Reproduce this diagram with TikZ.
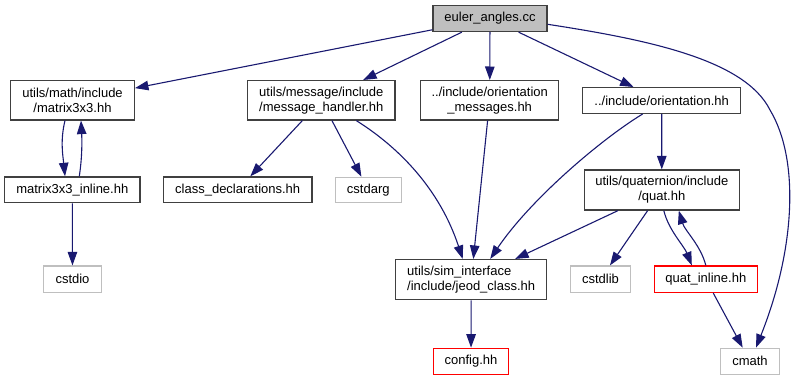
\documentclass[tikz,border=0pt]{standalone}
\usepackage{fontspec}
\setmainfont{Liberation Sans}
\usetikzlibrary{arrows.meta,calc}
\definecolor{edgeblue}{HTML}{191970}
\definecolor{nodegray}{HTML}{BFBFBF}
\definecolor{borderdark}{HTML}{404040}

\begin{document}
\begin{tikzpicture}[x=1pt,y=-1pt,
  font=\fontsize{13}{15}\selectfont,
  file/.style={draw=borderdark, line width=1.3pt, inner sep=0pt, align=center, fill=white},
  sysfile/.style={file, draw=nodegray},
  missing/.style={file, draw=red},
  dep/.style={draw=edgeblue, line width=1.1pt, -{Triangle[length=13.5pt,width=9.5pt]}},
]
\useasboundingbox (0,0) rectangle (794,380);

% include graph nodes
\node[file, fill=nodegray, minimum width=114pt, minimum height=26pt] (euler) at (490,18.5) {euler\_angles.cc};
\node[file, minimum width=123.6pt, minimum height=39.3pt] (mat) at (72.5,100.3) {utils/math/include\\/matrix3x3.hh};
\node[file, minimum width=147.3pt, minimum height=39.3pt] (mh) at (321.3,100.3) {utils/message/include\\/message\_handler.hh};
\node[file, minimum width=138pt, minimum height=39.3pt] (om) at (489.7,100.3) {../include/orientation\\\_messages.hh};
\node[file, minimum width=158pt, minimum height=25.6pt] (ori) at (661.7,100.5) {../include/orientation.hh};
\node[file, minimum width=135.3pt, minimum height=25.7pt] (mi) at (72.3,189.8) {matrix3x3\_inline.hh};
\node[file, minimum width=148.7pt, minimum height=25.7pt] (cd) at (237.7,189.8) {class\_declarations.hh};
\node[sysfile, minimum width=66pt, minimum height=25pt] (csa) at (368.3,189.8) {cstdarg};
\node[file, minimum width=155pt, minimum height=40pt] (quat) at (661.8,190) {utils/quaternion/include\\/quat.hh};
\node[file, align=left, minimum width=151pt, minimum height=40pt] (jeod) at (471.2,279.6) {utils/sim\_interface\\/include/jeod\_class.hh};
\node[sysfile, minimum width=60.4pt, minimum height=26.3pt] (csl) at (600.5,279.2) {cstdlib};
\node[missing, minimum width=103pt, minimum height=26.3pt] (qi) at (705.8,279.2) {quat\_inline.hh};
\node[sysfile, minimum width=57.6pt, minimum height=26.3pt] (cio) at (72.5,279.2) {cstdio};
\node[missing, minimum width=75.4pt, minimum height=26pt] (cfg) at (471,361.3) {config.hh};
\node[sysfile, minimum width=58.6pt, minimum height=26pt] (cm) at (750,361.3) {cmath};

% straight dependencies
\draw[dep] (euler) -- (mat);
\draw[dep] (euler) -- (mh);
\draw[dep] (euler) -- (om);
\draw[dep] (euler) -- (ori);
\draw[dep] (mi) -- (cio);
\draw[dep] (mh) -- (cd);
\draw[dep] (mh) -- (csa);
\draw[dep] (om) -- (jeod);
\draw[dep] (ori) -- (quat);
\draw[dep] (quat) -- (jeod);
\draw[dep] (quat) -- (csl);
\draw[dep] (qi) -- (cm);
\draw[dep] (jeod) -- (cfg);

% curved dependencies
\draw[dep] ($(euler.east)+(0,5.8)$) .. controls (650,40) and (745,60) .. (770,110)
  .. controls (800,160) and (795,250) .. ($(cm.north)+(6,0)$);
\draw[dep] ($(mh.south)+(35,0)$) .. controls (400,148) and (440,190) .. ($(jeod.north)+(-8.5,0)$);
\draw[dep] ($(ori.south)+(-19,0)$) .. controls (600,140) and (530,200) .. ($(jeod.north)+(19,0)$);
\draw[dep] ($(mat.south)+(-7.5,0)$) .. controls +(-5,20) and +(-2,-20) .. ($(mi.north)+(-7.3,0)$);
\draw[dep] ($(mi.north)+(7,0)$) .. controls +(3,-20) and +(1,20) .. ($(mat.south)+(8.5,0)$);
\draw[dep] ($(quat.south)+(2,0)$) .. controls +(5,20) and +(-8,-20) .. ($(qi.north)+(-14,0)$);
\draw[dep] (qi.north) .. controls +(-5,-20) and +(6,20) .. ($(quat.south)+(17,0)$);
\end{tikzpicture}
\end{document}
